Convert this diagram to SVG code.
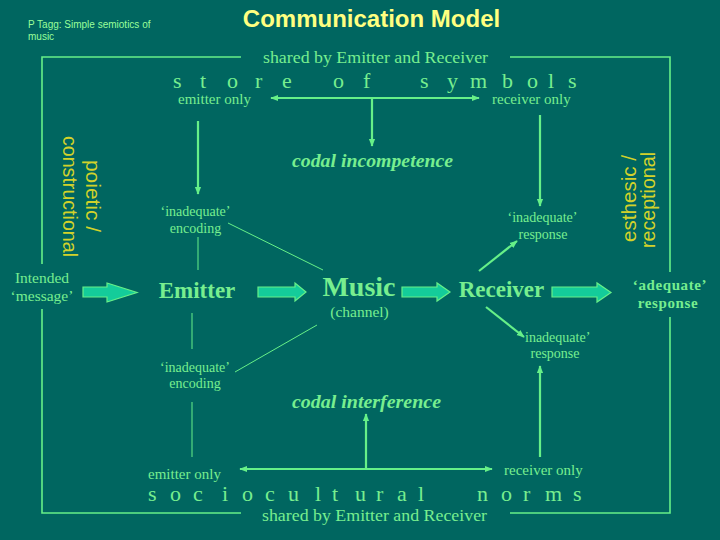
<svg xmlns="http://www.w3.org/2000/svg" width="720" height="540" viewBox="0 0 720 540">
<defs>
<style>
.serif{font-family:"Liberation Serif","Times New Roman",serif;fill:#77ee8f}
.sans{font-family:"Liberation Sans",Arial,sans-serif}
.yel{fill:#d2d22a}
.c{text-anchor:middle}
.frame{fill:none;stroke:#66f088;stroke-width:1.6}
.thin{fill:none;stroke:#66f088;stroke-width:1}
.arr{fill:none;stroke:#66f088;stroke-width:2.2}
.fat{fill:#14cc9a;stroke:#66f088;stroke-width:1.2}
</style>
<marker id="ah" viewBox="0 0 10 10" refX="9" refY="5" markerWidth="8" markerHeight="8" markerUnits="userSpaceOnUse" orient="auto-start-reverse">
<path d="M0,1 L10,5 L0,9 Z" fill="#66f088"/>
</marker>
</defs>
<rect width="720" height="540" fill="#006660"/>

<g id="title">
<text class="sans c" x="371.5" y="27" font-size="24" font-weight="bold" fill="#ffff80">Communication Model</text>
</g>
<g id="credit">
<text class="sans" x="28" y="28" font-size="10" fill="#99ff99">P Tagg: Simple semiotics of</text>
<text class="sans" x="28" y="40" font-size="10" fill="#99ff99">music</text>
</g>

<g id="connectors">
<polyline class="frame" points="241,57 42,57 42,264"/>
<polyline class="frame" points="510,57 670,57 670,272"/>
<polyline class="frame" points="42,309 42,513 241,513"/>
<polyline class="frame" points="510,513 670,513 670,317"/>
<line class="arr" x1="271" y1="98" x2="479" y2="98" marker-start="url(#ah)" marker-end="url(#ah)"/>
<line class="arr" x1="372" y1="98" x2="372" y2="146" marker-end="url(#ah)"/>
<line class="arr" x1="198" y1="121" x2="198" y2="194" marker-end="url(#ah)"/>
<line class="arr" x1="540" y1="115" x2="540" y2="206" marker-end="url(#ah)"/>
<line class="arr" x1="479" y1="271" x2="517" y2="241" marker-end="url(#ah)"/>
<line class="arr" x1="486" y1="307" x2="524" y2="337" marker-end="url(#ah)"/>
<line class="arr" x1="240" y1="469" x2="492" y2="469" marker-start="url(#ah)" marker-end="url(#ah)"/>
<line class="arr" x1="366" y1="469" x2="366" y2="414" marker-end="url(#ah)"/>
<line class="arr" x1="540" y1="457" x2="540" y2="366" marker-end="url(#ah)"/>
<line class="thin" x1="198" y1="237" x2="198" y2="270"/>
<line class="thin" x1="228" y1="223" x2="323" y2="270"/>
<line class="thin" x1="192" y1="313" x2="192" y2="349"/>
<line class="thin" x1="235" y1="372" x2="317" y2="325"/>
<line class="thin" x1="192" y1="402" x2="192" y2="457"/>
<polygon class="fat" points="83,287 107,287 107,283 137,292.5 107,302 107,297 83,297"/>
<polygon class="fat" points="258,287 295,287 295,283 306,292 295,301 295,297 258,297"/>
<polygon class="fat" points="402,287 437,287 437,283 450,292 437,301 437,297 402,297"/>
<polygon class="fat" points="552,287 597,287 597,283 611,292.5 597,302 597,297 552,297"/>
</g>

<g id="store-of-symbols">
<text class="serif c" x="375.5" y="63" font-size="17.5" textLength="225" lengthAdjust="spacingAndGlyphs">shared by Emitter and Receiver</text>
<text class="serif" y="87.5" font-size="22" x="173 200 227 255 282 333 363 420 447 470 502 527 548 568">storeofsymbols</text>
<text class="serif" x="178" y="104" font-size="15">emitter only</text>
<text class="serif" x="492" y="104" font-size="15">receiver only</text>
</g>

<g id="codal-incompetence">
<text class="serif c" x="372.5" y="167" font-size="19" font-weight="bold" font-style="italic" textLength="161" lengthAdjust="spacingAndGlyphs">codal incompetence</text>
</g>

<g id="poietic">
<text class="sans yel c" transform="translate(63,196.5) rotate(90)" font-size="20" textLength="121" lengthAdjust="spacingAndGlyphs">constructional</text>
<text class="sans yel c" transform="translate(86,196) rotate(90)" font-size="20" textLength="72" lengthAdjust="spacingAndGlyphs">poietic /</text>
</g>
<g id="esthesic">
<text class="sans yel c" transform="translate(636,198.5) rotate(-90)" font-size="20" textLength="87" lengthAdjust="spacingAndGlyphs">esthesic /</text>
<text class="sans yel c" transform="translate(655,200) rotate(-90)" font-size="20" textLength="96" lengthAdjust="spacingAndGlyphs">receptional</text>
</g>

<g id="inadequate-encoding-top">
<text class="serif c" x="195.5" y="216" font-size="14">‘inadequate’</text>
<text class="serif c" x="195.5" y="233" font-size="14">encoding</text>
</g>
<g id="inadequate-response-top">
<text class="serif c" x="542.5" y="222" font-size="14">‘inadequate’</text>
<text class="serif c" x="543" y="239" font-size="14">response</text>
</g>

<g id="intended">
<text class="serif c" x="42" y="283" font-size="15.5">Intended</text>
<text class="serif c" x="42" y="301" font-size="15.5">‘message’</text>
</g>
<g id="emitter">
<text class="serif c" x="197" y="298" font-size="23" font-weight="bold">Emitter</text>
</g>
<g id="music">
<text class="serif c" x="359" y="296" font-size="28" font-weight="bold">Music</text>
<text class="serif c" x="359.5" y="317" font-size="15.5">(channel)</text>
</g>
<g id="receiver">
<text class="serif c" x="501.5" y="297" font-size="23" font-weight="bold">Receiver</text>
</g>
<g id="adequate">
<text class="serif c" x="670" y="290" font-size="15" font-weight="bold" letter-spacing="0.6">‘adequate’</text>
<text class="serif c" x="668" y="308" font-size="15" font-weight="bold" letter-spacing="0.6">response</text>
</g>

<g id="inadequate-response-bottom">
<text class="serif" x="525" y="342" font-size="14">inadequate’</text>
<text class="serif c" x="555" y="358" font-size="14">response</text>
</g>
<g id="inadequate-encoding-bottom">
<text class="serif c" x="195" y="372" font-size="14">‘inadequate’</text>
<text class="serif c" x="195" y="388" font-size="14">encoding</text>
</g>

<g id="codal-interference">
<text class="serif c" x="366.5" y="408" font-size="19" font-weight="bold" font-style="italic" textLength="149" lengthAdjust="spacingAndGlyphs">codal interference</text>
</g>

<g id="sociocultural-norms">
<text class="serif" x="148" y="479" font-size="15">emitter only</text>
<text class="serif" x="504" y="475" font-size="15">receiver only</text>
<text class="serif" y="500.5" font-size="22" x="148 170 193 222 242 265 288 315 332 355 376 397 418 477 501 523 545 573">socioculturalnorms</text>
<text class="serif c" x="374.5" y="520.5" font-size="17.5" textLength="225" lengthAdjust="spacingAndGlyphs">shared by Emitter and Receiver</text>
</g>
</svg>
